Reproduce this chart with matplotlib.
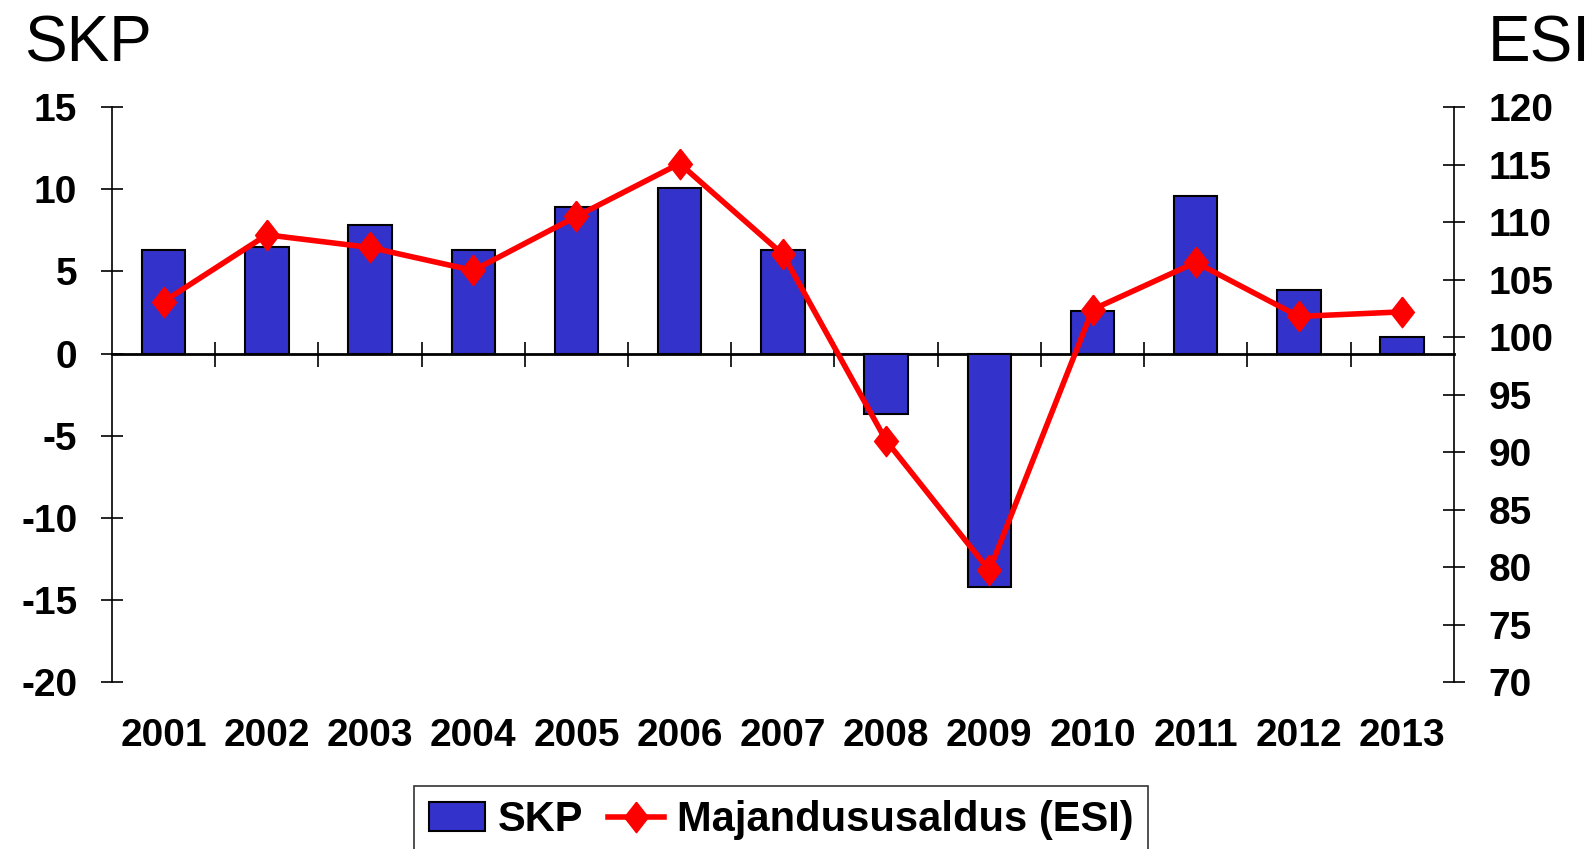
import matplotlib
matplotlib.use("Agg")
import matplotlib.pyplot as plt
import numpy as np

plt.rcParams['font.family'] = ['Liberation Sans', 'DejaVu Sans']
plt.rcParams['axes.unicode_minus'] = False

years = ['2001', '2002', '2003', '2004', '2005', '2006', '2007',
         '2008', '2009', '2010', '2011', '2012', '2013']
skp = [6.3, 6.5, 7.8, 6.3, 8.9, 10.1, 6.3, -3.7, -14.2, 2.6, 9.6, 3.9, 1.0]
esi = [103.1, 108.9, 107.8, 105.8, 110.5, 115.1, 107.2, 91.0, 79.7, 102.4, 106.5, 101.8, 102.2]

bar_color = '#3333CC'
line_color = '#FF0000'
diamond = [(0, 1), (0.78, 0), (0, -1), (-0.78, 0), (0, 1)]

fig = plt.figure(figsize=(15.94, 8.49), dpi=100)
ax = fig.add_axes([0.0703, 0.1967, 0.8417, 0.677])
x = np.arange(len(years))

bars = ax.bar(x, skp, width=0.42, color=bar_color, edgecolor='black', linewidth=1.5,
              label='SKP', zorder=2)
ax.set_xlim(-0.5, len(years) - 0.5)
ax.set_ylim(-20, 15)
ax.set_yticks(np.arange(-20, 16, 5))
ax.set_xticks(x)
ax.set_xticklabels(years, fontsize=28, fontweight='bold')
ax.tick_params(axis='x', length=0, pad=26)
ax.tick_params(axis='y', direction='inout', length=16, width=1.2, labelsize=28, pad=17)
for lbl in ax.get_yticklabels():
    lbl.set_fontweight('bold')
for s in ['top', 'right', 'bottom']:
    ax.spines[s].set_visible(False)
ax.spines['left'].set_linewidth(1.2)

# zero line with category separators
zero = ax.secondary_xaxis(20 / 35)
zero.set_xticks(np.arange(0.5, len(years) - 1, 1.0))
zero.tick_params(direction='inout', length=18, width=1.2, labelbottom=False, labeltop=False)
zero.spines['bottom'].set_linewidth(2)
zero.spines['top'].set_linewidth(2)

ax2 = ax.twinx()
ax2.set_ylim(70, 120)
ax2.set_yticks(np.arange(70, 121, 5))
ln, = ax2.plot(x, esi, color=line_color, linewidth=4, marker=diamond, markersize=22,
               label='Majandususaldus (ESI)', zorder=3)
ax2.tick_params(axis='y', direction='inout', length=16, width=1.2, labelsize=28, pad=17)
for lbl in ax2.get_yticklabels():
    lbl.set_fontweight('bold')
for s in ['top', 'left', 'bottom']:
    ax2.spines[s].set_visible(False)
ax2.spines['right'].set_linewidth(1.2)

fig.text(0.015, 0.948, 'SKP', fontsize=46, ha='left', va='center')
fig.text(0.998, 0.948, 'ESI', fontsize=46, ha='right', va='center')

leg = fig.legend([bars, ln], ['SKP', 'Majandususaldus (ESI)'], loc='upper center',
                 bbox_to_anchor=(0.49, 0.099), ncol=2, frameon=True, fancybox=False,
                 prop={'weight': 'bold', 'size': 30}, handlelength=1.35,
                 columnspacing=0.6, handletextpad=0.3, borderpad=0.35)
leg.get_frame().set_edgecolor('black')
leg.get_frame().set_linewidth(1.2)

fig.savefig('out.png', dpi=100)
